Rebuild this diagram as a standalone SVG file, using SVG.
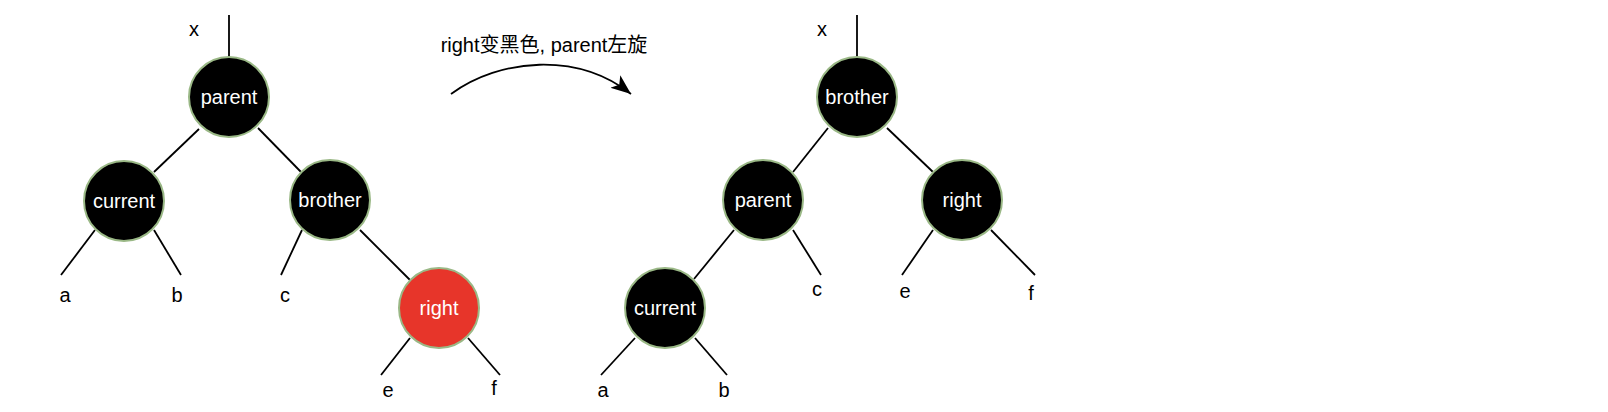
<svg xmlns="http://www.w3.org/2000/svg" width="1608" height="412" viewBox="0 0 1608 412">
<style>
  .node circle { fill: #000000; stroke: #9ab886; stroke-width: 2; }
  .node.red circle { fill: #e7352a; }
  .node text { fill: #ffffff; font-family: "Liberation Sans", Arial, sans-serif; font-size: 20px; text-anchor: middle; }
  .edges line { stroke: #000000; stroke-width: 1.8; }
  .lbl { fill: #000000; font-family: "Liberation Sans", Arial, sans-serif; font-size: 20px; text-anchor: middle; }
  .title { fill: #000000; font-family: "Liberation Sans", Arial, "Noto Sans CJK SC", sans-serif; font-size: 20px; text-anchor: middle; }
</style>
<defs>
  <marker id="arr" markerUnits="userSpaceOnUse" markerWidth="24" markerHeight="24" viewBox="-20 -10 24 20" refX="0" refY="0" orient="auto">
    <path d="M0,0 L-20,-8 L-15,0 L-20,8 Z" fill="#000"/>
  </marker>
</defs>
<rect width="1608" height="412" fill="#ffffff"/>
<g id="edges" class="edges">
  <!-- left tree -->
  <line x1="229" y1="15" x2="229" y2="57"/>
  <line x1="199" y1="129" x2="154" y2="172"/>
  <line x1="258" y1="128" x2="301" y2="172"/>
  <line x1="95" y1="230" x2="61" y2="275"/>
  <line x1="154" y1="230" x2="181" y2="275"/>
  <line x1="302" y1="230" x2="281" y2="275"/>
  <line x1="360" y1="230" x2="410" y2="280"/>
  <line x1="410" y1="338" x2="381" y2="375"/>
  <line x1="468" y1="338" x2="500" y2="375"/>
  <!-- right tree -->
  <line x1="857" y1="15" x2="857" y2="57"/>
  <line x1="828" y1="128" x2="793" y2="172"/>
  <line x1="887" y1="128" x2="933" y2="172"/>
  <line x1="734" y1="230" x2="694" y2="279"/>
  <line x1="793" y1="230" x2="821" y2="275"/>
  <line x1="933" y1="230" x2="902" y2="275"/>
  <line x1="991" y1="230" x2="1035" y2="275"/>
  <line x1="635" y1="338" x2="601" y2="375"/>
  <line x1="695" y1="338" x2="727" y2="375"/>
  <!-- transform arrow -->
  <path d="M451,94 C500,58 578,52 631,94" fill="none" stroke="#000" stroke-width="1.8" marker-end="url(#arr)"/>
</g>
<text class="title" x="544" y="52">right变黑色, parent左旋</text>
<!-- left tree nodes -->
<g id="L-parent" class="node"><circle cx="229" cy="97" r="40"/><text x="229" y="104">parent</text></g>
<g id="L-current" class="node"><circle cx="124" cy="201" r="40"/><text x="124" y="208">current</text></g>
<g id="L-brother" class="node"><circle cx="330" cy="200" r="40"/><text x="330" y="207">brother</text></g>
<g id="L-right" class="node red"><circle cx="439" cy="308" r="40"/><text x="439" y="315">right</text></g>
<g id="L-labels">
  <text class="lbl" x="194" y="36">x</text>
  <text class="lbl" x="65" y="302">a</text>
  <text class="lbl" x="177" y="302">b</text>
  <text class="lbl" x="285" y="302">c</text>
  <text class="lbl" x="388" y="397">e</text>
  <text class="lbl" x="494" y="395">f</text>
</g>
<!-- right tree nodes -->
<g id="R-brother" class="node"><circle cx="857" cy="97" r="40"/><text x="857" y="104">brother</text></g>
<g id="R-parent" class="node"><circle cx="763" cy="200" r="40"/><text x="763" y="207">parent</text></g>
<g id="R-right" class="node"><circle cx="962" cy="200" r="40"/><text x="962" y="207">right</text></g>
<g id="R-current" class="node"><circle cx="665" cy="308" r="40"/><text x="665" y="315">current</text></g>
<g id="R-labels">
  <text class="lbl" x="822" y="36">x</text>
  <text class="lbl" x="817" y="296">c</text>
  <text class="lbl" x="905" y="298">e</text>
  <text class="lbl" x="1031" y="300">f</text>
  <text class="lbl" x="603" y="397">a</text>
  <text class="lbl" x="724" y="397">b</text>
</g>
</svg>
